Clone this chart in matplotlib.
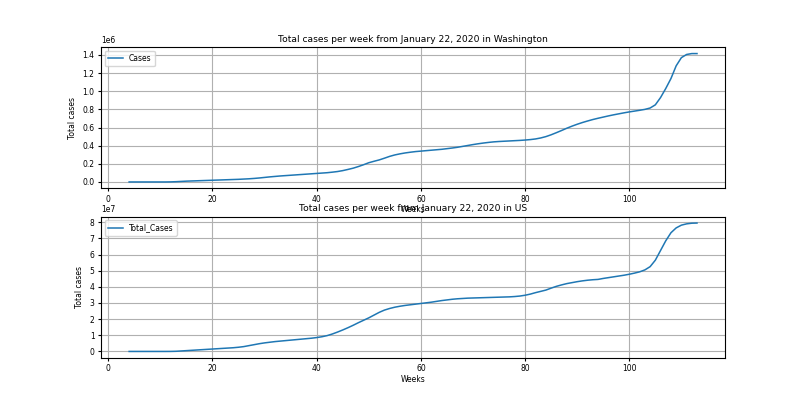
import numpy as np
import matplotlib
matplotlib.use("Agg")
import matplotlib.pyplot as plt
from matplotlib.ticker import MultipleLocator

plt.rcParams["font.size"] = 5.5

weeks = list(range(4, 114))

wa_cases = [
    0, 0, 0, 0, 0, 0, 0, 0, 0.001, 0.003,
    0.006, 0.009, 0.011, 0.013, 0.015, 0.017, 0.019, 0.021, 0.023, 0.025,
    0.027, 0.029, 0.032, 0.035, 0.039, 0.044, 0.050, 0.056, 0.061, 0.066,
    0.070, 0.074, 0.078, 0.082, 0.086, 0.090, 0.094, 0.098, 0.102, 0.108,
    0.115, 0.125, 0.138, 0.152, 0.170, 0.190, 0.212, 0.228, 0.243, 0.262,
    0.282, 0.298, 0.310, 0.320, 0.328, 0.335, 0.340, 0.345, 0.350, 0.355,
    0.360, 0.367, 0.374, 0.382, 0.392, 0.402, 0.412, 0.421, 0.429, 0.436,
    0.442, 0.446, 0.449, 0.452, 0.455, 0.458, 0.462, 0.467, 0.474, 0.485,
    0.500, 0.520, 0.543, 0.567, 0.592, 0.615, 0.636, 0.655, 0.672, 0.688,
    0.702, 0.715, 0.728, 0.740, 0.751, 0.762, 0.772, 0.781, 0.790, 0.800,
    0.815, 0.850, 0.930, 1.030, 1.140, 1.280, 1.370, 1.405, 1.415, 1.415,
]

us_cases = [
    0, 0, 0, 0, 0, 0, 0, 0, 0.002, 0.01,
    0.03, 0.05, 0.07, 0.09, 0.11, 0.13, 0.15, 0.17, 0.19, 0.21,
    0.23, 0.26, 0.30, 0.36, 0.42, 0.48, 0.53, 0.57, 0.61, 0.64,
    0.67, 0.70, 0.73, 0.76, 0.79, 0.82, 0.86, 0.91, 0.98, 1.08,
    1.20, 1.33, 1.47, 1.62, 1.78, 1.93, 2.08, 2.25, 2.42, 2.56,
    2.66, 2.74, 2.80, 2.85, 2.89, 2.93, 2.97, 3.01, 3.05, 3.10,
    3.15, 3.19, 3.23, 3.26, 3.28, 3.30, 3.31, 3.32, 3.33, 3.34,
    3.35, 3.36, 3.37, 3.38, 3.40, 3.43, 3.48, 3.55, 3.64, 3.72,
    3.80, 3.92, 4.03, 4.12, 4.20, 4.26, 4.32, 4.37, 4.41, 4.44,
    4.46, 4.52, 4.57, 4.62, 4.67, 4.72, 4.78, 4.85, 4.93, 5.05,
    5.25, 5.65, 6.25, 6.85, 7.35, 7.65, 7.82, 7.90, 7.94, 7.95,
]

fig, (ax1, ax2) = plt.subplots(2, 1, figsize=(8.06, 4.03), dpi=100)
fig.subplots_adjust(left=0.125, right=0.9, top=0.883, bottom=0.112, hspace=0.2)

ax1.plot(weeks, np.array(wa_cases) * 1e6, lw=1.1, label="Cases")
ax1.set_title("Total cases per week from January 22, 2020 in Washington", pad=4)
ax1.set_xlabel("Weeks", labelpad=1)
ax1.set_ylabel("Total cases")
ax1.yaxis.set_major_locator(MultipleLocator(0.2e6))
ax1.grid(True)
ax1.legend(loc="upper left")

ax2.plot(weeks, np.array(us_cases) * 1e7, lw=1.1, label="Total_Cases")
ax2.set_title("Total cases per week from January 22, 2020 in US", pad=4)
ax2.set_xlabel("Weeks", labelpad=1)
ax2.set_ylabel("Total cases")
ax2.yaxis.set_major_locator(MultipleLocator(1e7))
ax2.grid(True)
ax2.legend(loc="upper left")

for ax in (ax1, ax2):
    ax.tick_params(length=2.5, pad=2)

fig.savefig("out.png", dpi=100)
